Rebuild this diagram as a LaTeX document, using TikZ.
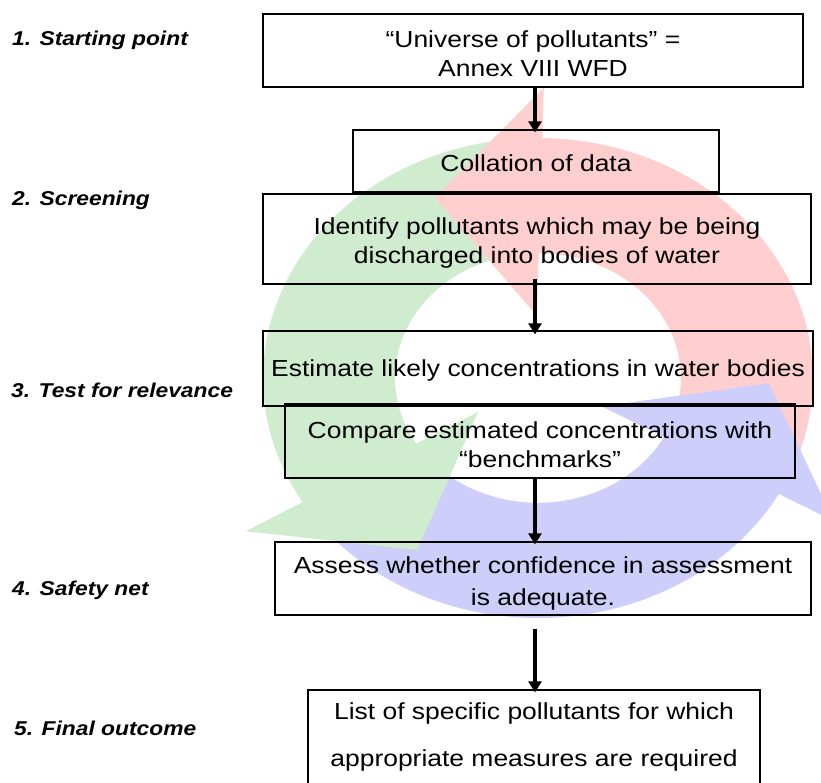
\documentclass[tikz,border=0pt]{standalone}
\usepackage{fontspec}
\setmainfont{Liberation Sans}[FakeStretch=1.14]
\usetikzlibrary{arrows.meta}
\definecolor{cpink}{RGB}{255,206,206}
\definecolor{cgreen}{RGB}{207,236,207}
\definecolor{cblue}{RGB}{206,206,250}
\begin{document}
\begin{tikzpicture}[x=1pt,y=-1pt,
  box/.style={draw=black, line width=1.3pt, inner sep=0pt},
  txt/.style={inner sep=0pt, align=center, font=\fontsize{23.2}{29}\selectfont},
  lbl/.style={anchor=west, inner sep=0pt, font=\fontsize{20}{22}\selectfont\bfseries\itshape},
  flow/.style={line width=3.8pt, -{Triangle[width=13pt,length=11pt]}}]
\useasboundingbox (0,0) rectangle (821,782);
\fill[white] (0,0) rectangle (821,782);
% cycle arrows
\begin{scope}[shift={(538,378)}, x=275pt, y=240pt]
  \fill[cblue] plot[domain=217:332,samples=80] (\x:1) -- plot[domain=332:217,samples=80] (\x:0.52) -- cycle;
  \fill[cgreen] plot[domain=95:212,samples=80] (\x:1) -- plot[domain=212:95,samples=80] (\x:0.52) -- cycle;
  \fill[cpink] plot[domain=337:450,samples=80] (\x:1) -- plot[domain=450:337,samples=80] (\x:0.52) -- cycle;
  \fill[cgreen] (211:1.24) -- (238.5:0.84) -- (213:0.26) -- cycle;
  \fill[cpink] (89:1.21) -- (116.5:0.84) -- (91:0.26) -- cycle;
  \fill[cblue] (331:1.23) -- (358.5:0.84) -- (333:0.26) -- cycle;
\end{scope}
% boxes
\node[box, minimum width=540pt, minimum height=73pt] (b1) at (533,50.5) {};
\node[box, minimum width=366pt, minimum height=62pt] (b2) at (536,161) {};
\node[box, minimum width=548pt, minimum height=90pt] (b3) at (537,239) {};
\node[box, minimum width=550pt, minimum height=75pt] (b4) at (538,368.5) {};
\node[box, minimum width=510pt, minimum height=74pt] (b5) at (540,441) {};
\node[box, minimum width=536pt, minimum height=73pt] (b6) at (543,578.5) {};
\node[box, minimum width=452pt, minimum height=110pt] (b7) at (534,745) {};
% box texts
\node[txt] (t1) at (533,53.5) {“Universe of pollutants” =\\ Annex VIII WFD};
\node[txt] (t2) at (536,163) {Collation of data};
\node[txt] (t3) at (537,243) {Identify pollutants which may be being\\ discharged into bodies of water};
\node[txt] (t4) at (538,370.5) {Estimate likely concentrations in water bodies};
\node[txt] (t5) at (540,444.5) {Compare estimated concentrations with\\ “benchmarks”};
\node[txt] (t6) at (543,583) {Assess whether confidence in assessment\\[3pt] is adequate.};
\node[txt] (t7) at (534,736.5) {List of specific pollutants for which\\[18pt] appropriate measures are required};
% labels
\node[lbl] (l1) at (12,40) {1. Starting point};
\node[lbl] (l2) at (12,200) {2. Screening};
\node[lbl] (l3) at (11,390) {3. Test for relevance};
\node[lbl] (l4) at (12,590) {4. Safety net};
\node[lbl] (l5) at (14,728) {5. Final outcome};
% flow arrows
\coordinate (ax) at (535,0);
\draw[flow] (b1.south -| ax) -- ([yshift=-3pt]b2.north -| ax);
\draw[flow] ([yshift=6pt]b3.south -| ax) -- ([yshift=-4pt]b4.north -| ax);
\draw[flow] (b5.south -| ax) -- ([yshift=-3pt]b6.north -| ax);
\draw[flow] ([yshift=-13pt]b6.south -| ax) -- ([yshift=-3pt]b7.north -| ax);
\end{tikzpicture}
\end{document}
